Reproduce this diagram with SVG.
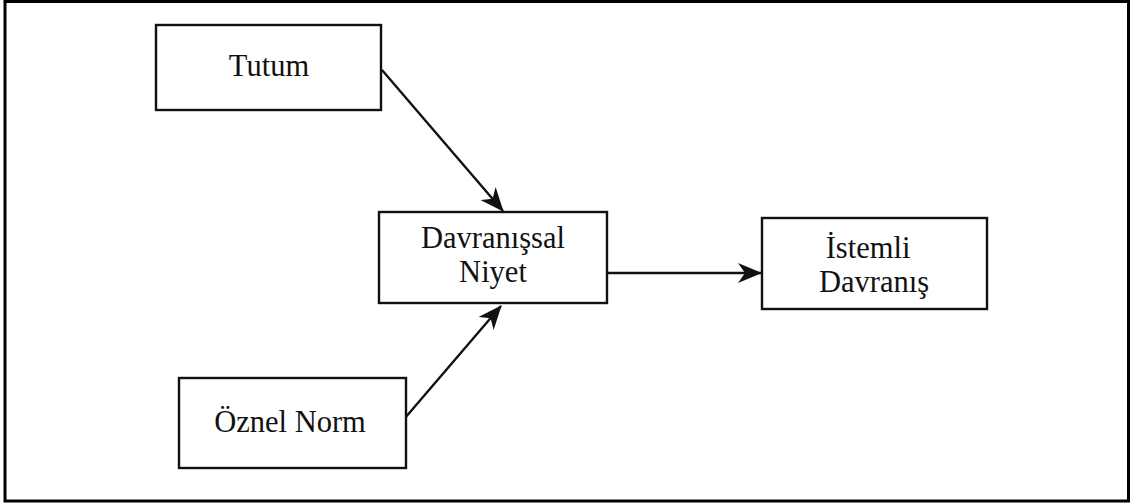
<svg xmlns="http://www.w3.org/2000/svg" width="1130" height="503" viewBox="0 0 1130 503">
  <style>
    .box { fill: #ffffff; stroke: #111111; stroke-width: 2.4; }
    .label { font-family: "Liberation Serif", "Times New Roman", serif; font-size: 30.5px; fill: #111111; text-anchor: middle; }
    .link { stroke: #111111; stroke-width: 2.4; fill: none; marker-end: url(#head); }
  </style>
  <defs>
    <!-- barbed arrowhead with a concave back -->
    <marker id="head" viewBox="0 0 24 20" refX="23" refY="10" markerWidth="24" markerHeight="20" markerUnits="userSpaceOnUse" orient="auto">
      <path d="M0,0 L24,10 L0,20 L7,10 Z" fill="#111111"/>
    </marker>
  </defs>

  <rect width="1130" height="503" fill="#ffffff"/>
  <!-- outer frame -->
  <path d="M5,1.5 H1128.5 V501 H5 Z" fill="none" stroke="#000000" stroke-width="3"/>

  <g id="connectors">
    <line class="link" x1="382" y1="70" x2="503" y2="211"/>
    <line class="link" x1="405" y1="418" x2="501" y2="306"/>
    <line class="link" x1="607" y1="273" x2="761" y2="273"/>
  </g>

  <g id="tutum">
    <rect class="box" x="156" y="25" width="225" height="85"/>
    <text class="label" x="269" y="76">Tutum</text>
  </g>

  <g id="davranissal-niyet">
    <rect class="box" x="379" y="212" width="228" height="91"/>
    <text class="label" x="493" y="248">Davranışsal</text>
    <text class="label" x="493" y="282">Niyet</text>
  </g>

  <g id="istemli-davranis">
    <rect class="box" x="762" y="218" width="225" height="91"/>
    <text class="label" x="868" y="258">İstemli</text>
    <text class="label" x="874" y="292">Davranış</text>
  </g>

  <g id="oznel-norm">
    <rect class="box" x="179" y="378" width="227" height="90"/>
    <text class="label" x="290" y="432">Öznel Norm</text>
  </g>
</svg>
